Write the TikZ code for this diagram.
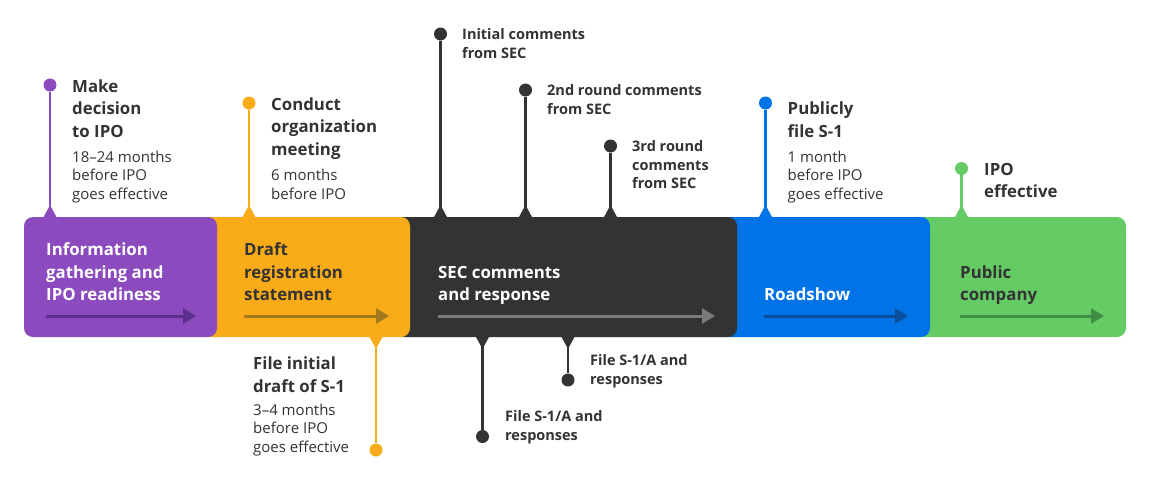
\documentclass[tikz,border=0pt]{standalone}
\usepackage{fontspec}
\setmainfont{Open Sans}
\usetikzlibrary{arrows.meta}
\definecolor{cpur}{HTML}{8B4BBE}
\definecolor{cpurd}{HTML}{5C2F8C}
\definecolor{corg}{HTML}{F9AB18}
\definecolor{corgd}{HTML}{A07A1E}
\definecolor{cdrk}{HTML}{333333}
\definecolor{cdrkl}{HTML}{7A7A7A}
\definecolor{cblu}{HTML}{0073E6}
\definecolor{cblud}{HTML}{0B4E9B}
\definecolor{cgrn}{HTML}{65CB65}
\definecolor{cgrnd}{HTML}{3E8E47}
\definecolor{ctxt}{HTML}{333333}
\newcommand\mup[4]{%
  \node[dot=#4] (#1) at (#2,#3) {};
  \coordinate (#1b) at (#2,217);
  \draw[stem=#4] (#1) -- (#1b);
  \fill[#4] (#2-7,218) -- (#2,205) -- (#2+7,218) -- cycle;
}
\newcommand\mdown[4]{%
  \node[dot=#4] (#1) at (#2,#3) {};
  \coordinate (#1b) at (#2,337);
  \draw[stem=#4] (#1) -- (#1b);
  \fill[#4] (#2-7,336) -- (#2,349) -- (#2+7,336) -- cycle;
}
\begin{document}
\begin{tikzpicture}[x=1pt,y=-1pt,
  % base anchor = baseline of the LAST line
  hd/.style={anchor=base west, inner sep=0, align=left, text=ctxt, font=\fontsize{16.8}{22.5}\selectfont\bfseries},
  sub/.style={anchor=base west, inner sep=0, align=left, text=ctxt, font=\fontsize{15}{18.5}\selectfont},
  sm/.style={anchor=base west, inner sep=0, align=left, text=ctxt, font=\fontsize{14.5}{18.5}\selectfont\bfseries},
  bx/.style={anchor=base west, inner sep=0, align=left, font=\fontsize{16.8}{22.5}\selectfont\bfseries},
  dot/.style={circle, fill=#1, minimum size=13pt, inner sep=0},
  stem/.style={draw=#1, line width=2.6pt},
  flow/.style={draw=#1, line width=3pt, -{Triangle[length=13pt,width=15pt]}},
  seg/.style={fill=#1, rounded corners=9pt},
]
\useasboundingbox (0,0) rectangle (1149,480);
% segments (drawn right to left so each overlaps the next)
\fill[seg=cgrn] (915,217) rectangle (1126,337);
\fill[seg=cblu] (720,217) rectangle (930,337);
\fill[seg=cdrk] (395,217) rectangle (737,337);
\fill[seg=corg] (200,217) rectangle (410,337);
\fill[seg=cpur] (24,217) rectangle (217,337);
% segment labels
\node[bx, text=white] (l1) at (46,300.5) {Information\\gathering and\\IPO readiness};
\node[bx, text=ctxt] (l2) at (244,300.5) {Draft\\registration\\statement};
\node[bx, text=white] (l3) at (438,300.5) {SEC comments\\and response};
\node[bx, text=white] (l4) at (764,300.5) {Roadshow};
\node[bx, text=ctxt] (l5) at (960,300.5) {Public\\company};
% flow arrows
\coordinate (a1s) at (46,316); \coordinate (a1e) at (196,316);
\coordinate (a2s) at (244,316); \coordinate (a2e) at (389,316);
\coordinate (a3s) at (438,316); \coordinate (a3e) at (715,316);
\coordinate (a4s) at (764,316); \coordinate (a4e) at (908,316);
\coordinate (a5s) at (960,316); \coordinate (a5e) at (1104,316);
\draw[flow=cpurd] (a1s) -- (a1e);
\draw[flow=corgd] (a2s) -- (a2e);
\draw[flow=cdrkl] (a3s) -- (a3e);
\draw[flow=cblud] (a4s) -- (a4e);
\draw[flow=cgrnd] (a5s) -- (a5e);
% milestones above
\mup{m1}{50}{85}{cpur}
\node[hd] (t1) at (72,137) {Make\\decision\\to IPO};
\node[sub] (s1) at (72,199) {18–24 months\\before IPO\\goes effective};
\mup{m2}{249}{103}{corg}
\node[hd] (t2) at (271,155) {Conduct\\organization\\meeting};
\node[sub] (s2) at (271,199) {6 months\\before IPO};
\mup{m3}{440.5}{34}{cdrk}
\node[sm] (t3) at (462,58) {Initial comments\\from SEC};
\mup{m4}{525.5}{90}{cdrk}
\node[sm] (t4) at (547,114) {2nd round comments\\from SEC};
\mup{m5}{610.5}{146}{cdrk}
\node[sm] (t5) at (632,188.5) {3rd round\\comments\\from SEC};
\mup{m6}{765.5}{103}{cblu}
\node[hd] (t6) at (787.5,137) {Publicly\\file S-1};
\node[sub] (s6) at (787.5,199) {1 month\\before IPO\\goes effective};
\mup{m7}{961.5}{168.5}{cgrn}
\node[hd] (t7) at (984,197.5) {IPO\\effective};
% milestones below
\mdown{b1}{376}{450}{corg}
\node[hd] (u1) at (253,392) {File initial\\draft of S-1};
\node[sub] (v1) at (253,452) {3–4 months\\before IPO\\goes effective};
\mdown{b2}{482.5}{436.5}{cdrk}
\node[sm] (u2) at (505,440) {File S-1/A and\\responses};
\mdown{b3}{568}{380}{cdrk}
\node[sm] (u3) at (590,384) {File S-1/A and\\responses};
\end{tikzpicture}
\end{document}
